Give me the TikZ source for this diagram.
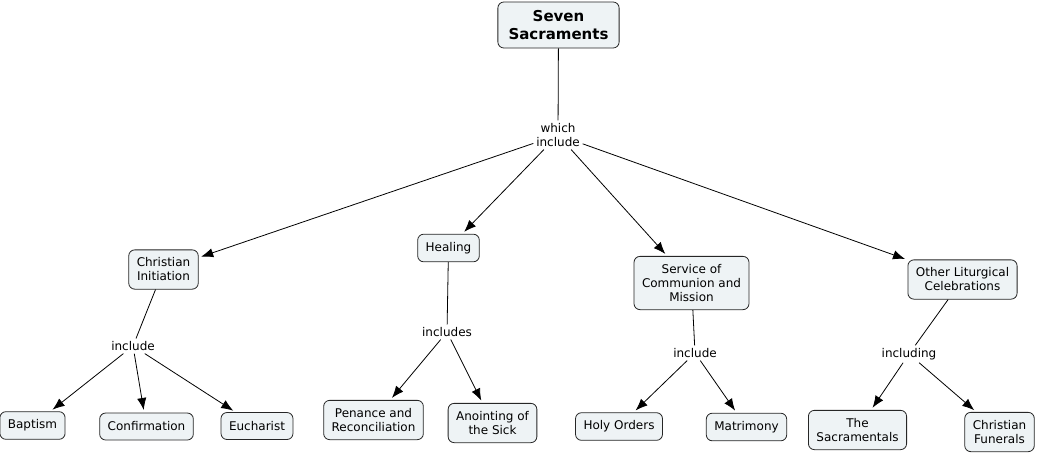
\documentclass[tikz,border=0pt]{standalone}
\usepackage{fontspec}
\setmainfont{DejaVu Sans}
\usetikzlibrary{arrows.meta}
\definecolor{conceptfill}{RGB}{238,243,245}
\tikzset{>={Latex[length=9pt,width=7pt]}}
\tikzset{concept/.style={draw=black!85, fill=conceptfill, rounded corners=4.5pt,
    line width=0.6pt, align=center, font=\fontsize{9}{10.5}\selectfont,
    inner xsep=6pt, inner ysep=6pt, minimum height=20.25pt}
}
\tikzset{topconcept/.style={concept, font=\bfseries\fontsize{11.25}{13.5}\selectfont,
    inner xsep=8pt, inner ysep=6.25pt}
}
\tikzset{phrase/.style={align=center, font=\fontsize{9}{10.5}\selectfont, inner sep=2pt}}
\tikzset{link/.style={line width=0.6pt}}
\tikzset{linkarrow/.style={->, line width=0.6pt, shorten >=2pt}}

\begin{document}
\begin{tikzpicture}[x=0.75pt, y=-0.75pt, line join=round]
\useasboundingbox (0,0) rectangle (1037,454);

\node[topconcept] (sacr) at (558.5,25) {Seven\\Sacraments};
\node[phrase] (which) at (558,135) {which\\include};

\node[concept] (init) at (163.5,269.5) {Christian\\Initiation};
\node[concept] (heal) at (448.5,248) {Healing};
\node[concept] (serv) at (691.5,283) {Service of\\Communion and\\Mission};
\node[concept] (other) at (962.5,279.5) {Other Liturgical\\Celebrations};

\node[phrase] (inclinit) at (133,346) {include};
\node[phrase] (inclheal) at (447,332) {includes};
\node[phrase] (inclserv) at (695,353) {include};
\node[phrase] (incloth) at (909,354) {including};

\node[concept] (bapt) at (32.5,425.5) {Baptism};
\node[concept] (conf) at (146.5,426.5) {Confirmation};
\node[concept] (euch) at (257,426) {Eucharist};
\node[concept] (pen) at (373.5,420) {Penance and\\Reconciliation};
\node[concept] (anoint) at (492.5,423) {Anointing of\\the Sick};
\node[concept] (holy) at (619,426.5) {Holy Orders};
\node[concept] (matr) at (746.5,427) {Matrimony};
\node[concept] (sacm) at (857.5,430) {The\\Sacramentals};
\node[concept] (fun) at (999.5,432) {Christian\\Funerals};

\draw[link] (sacr) -- (which);
\foreach \c in {init,heal,serv,other}
    \draw[linkarrow] (which) -- (\c);

\draw[link] (init) -- (inclinit);
\foreach \c in {bapt,conf,euch}
    \draw[linkarrow] (inclinit) -- (\c);

\draw[link] (heal) -- (inclheal);
\foreach \c in {pen,anoint}
    \draw[linkarrow] (inclheal) -- (\c);

\draw[link] (serv) -- (inclserv);
\foreach \c in {holy,matr}
    \draw[linkarrow] (inclserv) -- (\c);

\draw[link] (other) -- (incloth);
\foreach \c in {sacm,fun}
    \draw[linkarrow] (incloth) -- (\c);

\end{tikzpicture}
\end{document}
